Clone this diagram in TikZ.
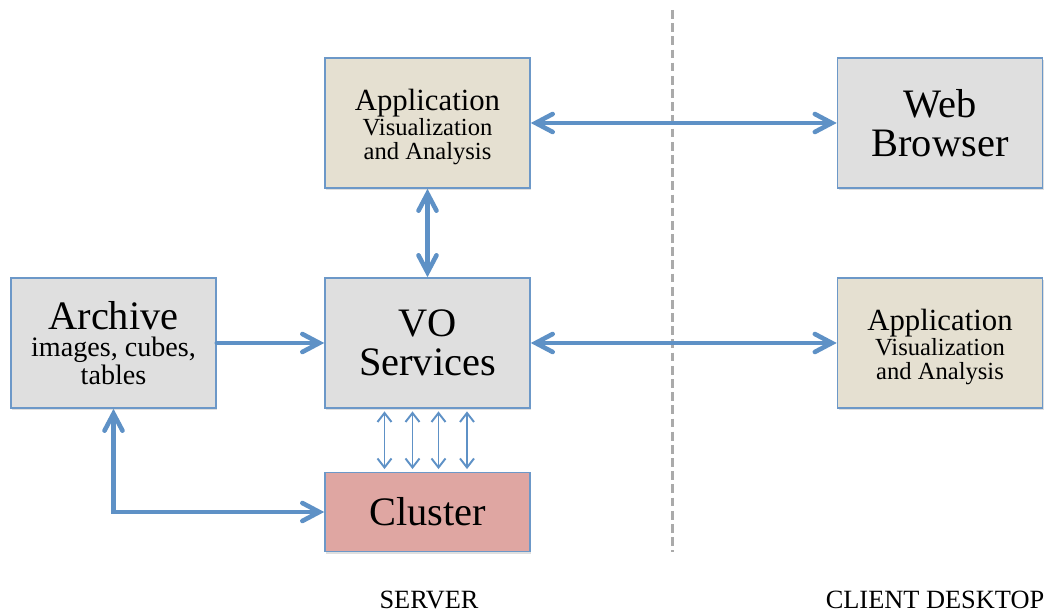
\documentclass[tikz,border=0pt]{standalone}
\usepackage{fontspec}
\setmainfont{Liberation Serif}
\usetikzlibrary{arrows.meta,shadows}

\definecolor{edgeblue}{RGB}{108,152,200}
\definecolor{arrowblue}{RGB}{94,145,198}
\definecolor{boxgray}{RGB}{223,223,223}
\definecolor{boxbeige}{RGB}{229,224,209}
\definecolor{boxpink}{RGB}{223,166,162}
\definecolor{dashgray}{RGB}{170,170,170}

\begin{document}
\begin{tikzpicture}[
  box/.style={draw=edgeblue,line width=0.9pt,minimum width=4.1cm,minimum height=2.6cm,align=center,
    drop shadow={opacity=0.25,shadow xshift=0.6pt,shadow yshift=-1.2pt}},
  bigarrow/.style={draw=arrowblue,line width=2.6pt,{Straight Barb[length=3.4mm,width=3.6mm,line cap=round]}-{Straight Barb[length=3.4mm,width=3.6mm,line cap=round]}},
  onearrow/.style={draw=arrowblue,line width=2.6pt,line cap=round,-{Straight Barb[length=3.4mm,width=3.6mm,line cap=round]}},
  thinarrow/.style={draw=arrowblue,line width=1.1pt,shorten <=1.5pt,shorten >=1.5pt,{Straight Barb[length=1.8mm,width=2.8mm]}-{Straight Barb[length=1.8mm,width=2.8mm]}},
  apptext/.style={font=\fontsize{14}{14}\selectfont},
  archtext/.style={font=\fontsize{16}{15.6}\selectfont},
  big/.style={font=\fontsize{23}{22.5}\selectfont},
  foot/.style={font=\fontsize{15}{17}\selectfont,anchor=base}]
\useasboundingbox (0,0) rectangle (20.98,12.3);

\node [box,fill=boxbeige,apptext] (app) at (8.55,9.84) {\rule{0pt}{17pt}{\fontsize{17.5}{14}\selectfont Application}\\Visualization\\and Analysis};
\node [box,fill=boxgray,big] (web) at (18.8,9.84) {Web\\Browser};

\node [box,fill=boxgray,archtext] (archive) at (2.27,5.44) {{\fontsize{23}{15.6}\selectfont Archive}\\images, cubes,\\tables};
\node [box,fill=boxgray,big] (vo) at (8.55,5.44) {VO\\Services};
\node [box,fill=boxbeige,apptext] (app2) at (18.8,5.44) {\rule{0pt}{17pt}{\fontsize{17.5}{14}\selectfont Application}\\Visualization\\and Analysis};

\node [box,fill=boxpink,minimum height=1.58cm,big] (cluster) at (8.55,2.06) {Cluster};

\coordinate (dtop) at (13.44,12.1);
\coordinate (dbot) at (13.44,1.26);
\draw [dashgray,line width=1.7pt,dash pattern=on 5pt off 2.5pt] (dtop)--(dbot);

\draw [bigarrow] (app.east)--(web.west);
\draw [bigarrow] (app.south)--(vo.north);
\draw [onearrow] (archive.east)--(vo.west);
\draw [bigarrow] (vo.east)--(app2.west);
\draw [bigarrow] (archive.south)|-(cluster.west);

\foreach \dx in {-0.86,-0.30,0.22,0.79}
  \draw [thinarrow] ([xshift=\dx cm]vo.south)--([xshift=\dx cm]cluster.north);

\node [foot] (server) at (8.58,0.12) {SERVER};
\node [foot] (client) at (18.7,0.12) {CLIENT DESKTOP};

\end{tikzpicture}
\end{document}
